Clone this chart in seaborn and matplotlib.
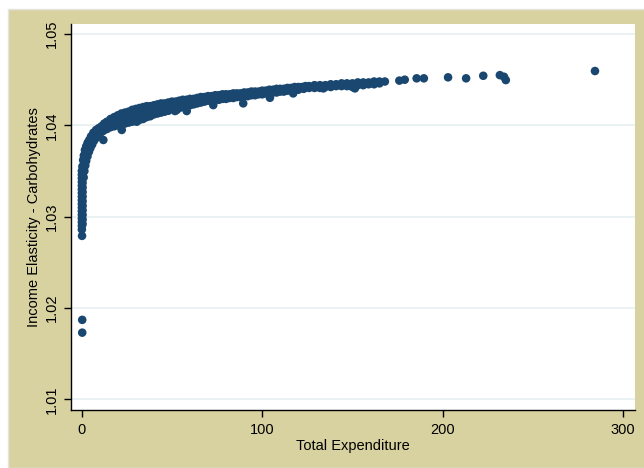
import numpy as np
import pandas as pd
import matplotlib
matplotlib.use("Agg")
import matplotlib.pyplot as plt
from matplotlib.patches import Rectangle
import seaborn as sns

# ---- data: income elasticity of carbohydrates vs total expenditure ----
# upper edge of the dense cloud
upper_x = [0.4, 0.8, 1.2, 1.8, 2.5, 3.3, 4.2, 5.2, 6.5, 8.0, 9.5, 11, 12.5, 14, 16, 18, 20, 22, 24, 26,
           28, 30, 32, 34, 36, 38, 40, 42, 44, 46, 48, 50, 52, 54, 56, 58, 60, 62, 64, 66,
           68, 70, 72, 74, 76, 78, 80, 82, 84, 86, 88, 90, 92, 94, 96, 98, 100, 102, 104, 106,
           108, 110, 112, 114, 116, 118, 120, 122, 124, 126, 129, 132, 135, 138, 141, 144, 147, 150, 153, 156,
           159, 162, 165, 168]
upper_y = [1.0355, 1.0362, 1.0367, 1.0373, 1.0377, 1.0381, 1.0384, 1.0388, 1.0392, 1.0395, 1.0397, 1.0399, 1.0402, 1.0404, 1.0407, 1.0409, 1.0411, 1.0413, 1.0414, 1.0415,
           1.0417, 1.0418, 1.0419, 1.0420, 1.0421, 1.0421, 1.0422, 1.0423, 1.0424, 1.0424, 1.0425, 1.0426, 1.0426, 1.0427, 1.0428, 1.0428, 1.0429, 1.0429, 1.0430, 1.0431,
           1.0431, 1.0432, 1.0432, 1.0433, 1.0433, 1.0434, 1.0434, 1.0434, 1.0435, 1.0435, 1.0435, 1.0436, 1.0436, 1.0437, 1.0437, 1.0437, 1.0438, 1.0438, 1.0439, 1.0439,
           1.0440, 1.0440, 1.0440, 1.0441, 1.0441, 1.0442, 1.0442, 1.0442, 1.0443, 1.0443, 1.0444, 1.0444, 1.0444, 1.0445, 1.0445, 1.0446, 1.0446, 1.0446, 1.0447, 1.0447,
           1.0447, 1.0448, 1.0448, 1.0448]

# middle of the cloud where it is widest
middle_x = [2.2, 3.0, 4.0, 5.0, 6.0, 7.2, 8.5, 10, 12, 14, 16, 18, 20, 22, 24, 26, 28, 30, 32, 34,
            36, 38, 40, 42, 44, 46, 48, 50, 52, 54, 56, 58, 60]
middle_y = [1.0368, 1.0373, 1.0378, 1.0382, 1.0386, 1.0389, 1.0392, 1.0395, 1.0398, 1.0400, 1.0402, 1.0404, 1.0406, 1.0407, 1.0408, 1.0409, 1.0411, 1.0412, 1.0413, 1.0414,
            1.0415, 1.0416, 1.0417, 1.0418, 1.0419, 1.0420, 1.0421, 1.0422, 1.0423, 1.0423, 1.0424, 1.0425, 1.0425]

# lower edge of the dense cloud
lower_x = [1.1, 1.5, 2.0, 2.5, 3.2, 4.0, 4.8, 5.8, 6.8, 7.8, 9.0, 10.5, 12, 14, 16, 18, 20, 22, 24, 26,
           28, 30, 32, 34, 36, 38, 40, 42, 44, 46, 48, 50, 52, 54, 56, 58, 60, 62, 64, 66,
           68, 70, 72, 74, 76, 78, 80, 82, 84, 86, 88, 90, 92, 94, 96, 98, 100, 102, 104, 106,
           108, 110, 112, 114, 116, 118, 120, 123, 126, 129, 132, 135, 138, 141, 144, 147, 150, 153, 156, 159,
           162, 165]
lower_y = [1.0343, 1.0350, 1.0356, 1.0361, 1.0366, 1.0371, 1.0375, 1.0379, 1.0383, 1.0386, 1.0389, 1.0392, 1.0394, 1.0396, 1.0398, 1.0399, 1.0400, 1.0401, 1.0402, 1.0403,
           1.0404, 1.0405, 1.0406, 1.0407, 1.0409, 1.0410, 1.0412, 1.0413, 1.0414, 1.0415, 1.0416, 1.0418, 1.0419, 1.0419, 1.0420, 1.0421, 1.0422, 1.0423, 1.0424, 1.0425,
           1.0426, 1.0427, 1.0427, 1.0428, 1.0428, 1.0429, 1.0429, 1.0430, 1.0430, 1.0431, 1.0431, 1.0432, 1.0432, 1.0433, 1.0433, 1.0434, 1.0434, 1.0435, 1.0435, 1.0436,
           1.0436, 1.0437, 1.0437, 1.0438, 1.0438, 1.0439, 1.0439, 1.0440, 1.0441, 1.0441, 1.0441, 1.0442, 1.0442, 1.0443, 1.0443, 1.0443, 1.0442, 1.0444, 1.0444, 1.0445,
           1.0445, 1.0446]

# households with almost zero expenditure
column_x = [0.1] * 17 + [0.5] * 12
column_y = [1.0286, 1.0290, 1.0294, 1.0298, 1.0302, 1.0306, 1.0310, 1.0314, 1.0318, 1.0322, 1.0326, 1.0330, 1.0334, 1.0338, 1.0342, 1.0346, 1.0350,
            1.0292, 1.0297, 1.0302, 1.0307, 1.0312, 1.0317, 1.0322, 1.0327, 1.0332, 1.0337, 1.0342, 1.0347]

# scattered observations off the main cloud
other_x = [0.2, 0.3, 0.3, 12, 22.2, 30.5, 51.7, 52.6, 58.2, 72.9, 89.5, 104.3, 117.2, 133.9, 151.4,
           176, 179, 185.6, 189.6, 203, 213, 222.5, 231.7, 234, 235, 284.4]
other_y = [1.0279, 1.0187, 1.0173, 1.0384, 1.0395, 1.0404, 1.04157, 1.04168, 1.04157, 1.04222, 1.04241, 1.04302, 1.0435, 1.04405, 1.04405,
           1.0449, 1.0450, 1.04515, 1.04515, 1.04526, 1.04515, 1.04543, 1.0455, 1.04532, 1.04496, 1.04595]

y_ticks = [1.01, 1.02, 1.03, 1.04, 1.05]
x_ticks = [0, 100, 200, 300]

df = pd.DataFrame({
    "Total Expenditure": upper_x + middle_x + lower_x + column_x + other_x,
    "Income Elasticity - Carbohydrates": upper_y + middle_y + lower_y + column_y + other_y,
})

# ---- style ----
sns.set_style("white")
plt.rcParams["font.family"] = ["Liberation Sans", "DejaVu Sans"]

W, H = 644, 468
fig = plt.figure(figsize=(W / 100, H / 100), dpi=100, facecolor="white")

# khaki graph region behind the plot
region = Rectangle((8 / W, 0), 1, (H - 9) / H, transform=fig.transFigure,
                   facecolor="#d8d2a0", edgecolor="#e4e4e0", linewidth=1.0, zorder=-10)
fig.add_artist(region)

ax = fig.add_axes([71.3 / W, (H - 410) / H, (634.5 - 71.3) / W, (410 - 24) / H])
ax.set_zorder(1)
ax.set_facecolor("white")

sns.scatterplot(data=df, x="Total Expenditure", y="Income Elasticity - Carbohydrates",
                color="#1a476f", s=38, linewidth=0, edgecolor="none", ax=ax, zorder=3)

ax.set_xlim(-5.75, 306.3)
ax.set_ylim(1.00883, 1.0511)
ax.set_xticks(x_ticks)
ax.set_xticklabels([str(t) for t in x_ticks])
ax.set_yticks(y_ticks)
ax.set_yticklabels([f"{t:.2f}" for t in y_ticks], rotation=90, va="center")

for y in y_ticks:
    ax.axhline(y, color="#e6eff1", linewidth=1.2, zorder=1)

for side in ["top", "right"]:
    ax.spines[side].set_visible(False)
for side in ["left", "bottom"]:
    ax.spines[side].set_color("black")
    ax.spines[side].set_linewidth(1.0)

ax.tick_params(axis="both", direction="out", length=5, width=1, color="black",
               labelsize=10.5, labelcolor="black", left=True, bottom=True)
ax.tick_params(axis="y", pad=4)
ax.tick_params(axis="x", pad=4)

ax.set_xlabel("Total Expenditure", fontsize=10.5, color="black", labelpad=2)
ax.set_ylabel("Income Elasticity - Carbohydrates", fontsize=10.5, color="black", labelpad=3)

fig.savefig("out.png", dpi=100, facecolor="white")
